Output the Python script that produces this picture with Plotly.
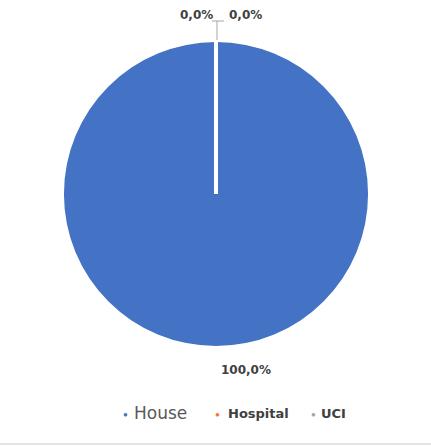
import plotly.graph_objects as go

categories = ["House", "Hospital", "UCI"]
values = [100, 0, 0]
colors = ["#4472C4", "#ED7D31", "#A5A5A5"]

W, H = 431, 447
cx, cy, r = 216, 194, 152

total = sum(values)
pct = [f"{v / total * 100:.1f}".replace(".", ",") + "%" for v in values]


def px(x):
    return x / W


def py(y):
    return 1 - y / H


fig = go.Figure(
    go.Pie(
        labels=categories,
        values=values,
        marker=dict(colors=colors, line=dict(color="white", width=0)),
        sort=False,
        direction="clockwise",
        rotation=0,
        textinfo="none",
        hoverinfo="label+percent",
        showlegend=False,
        domain=dict(x=[px(cx - r), px(cx + r)], y=[py(cy + r), py(cy - r)]),
    )
)

# data labels (pixels)
label_pos = [(246, 370), (245, 15), (196, 15)]
annotations = []
for (lx, ly), t in zip(label_pos, pct):
    annotations.append(
        dict(
            x=px(lx), y=py(ly), xref="paper", yref="paper",
            text=f"<b>{t}</b>", showarrow=False,
            font=dict(family="DejaVu Sans", size=12, color="#404040"),
            xanchor="center", yanchor="middle",
        )
    )

# legend built as text
legend_marker_x = [125, 217, 313]
legend_text_x = [132, 226, 319]
legend_fonts = [
    dict(family="DejaVu Sans", size=17, color="#595959"),
    dict(family="DejaVu Sans", size=13, color="#404040"),
    dict(family="DejaVu Sans", size=13, color="#404040"),
]
legend_y = 413
for name, col, mx, tx, f in zip(categories, colors, legend_marker_x, legend_text_x, legend_fonts):
    annotations.append(
        dict(x=px(mx), y=py(legend_y), xref="paper", yref="paper",
             text="●", showarrow=False, font=dict(size=8, color=col),
             xanchor="center", yanchor="middle")
    )
    label = name if name == "House" else f"<b>{name}</b>"
    annotations.append(
        dict(x=px(tx), y=py(legend_y), xref="paper", yref="paper",
             text=label, showarrow=False, font=f,
             xanchor="left", yanchor="middle")
    )

shapes = [
    # slice boundary at the top (zero-size slices)
    dict(type="line", xref="paper", yref="paper",
         x0=px(cx), x1=px(cx), y0=py(cy), y1=py(cy - r),
         line=dict(color="white", width=4)),
    # leader line for the zero labels
    dict(type="line", xref="paper", yref="paper",
         x0=px(212), x1=px(224), y0=py(21), y1=py(21),
         line=dict(color="#a6a6a6", width=1)),
    dict(type="line", xref="paper", yref="paper",
         x0=px(217), x1=px(217), y0=py(21), y1=py(40),
         line=dict(color="#a6a6a6", width=1)),
    # bottom border
    dict(type="line", xref="paper", yref="paper",
         x0=0, x1=1, y0=py(444), y1=py(444),
         line=dict(color="#e3e3e3", width=2)),
]

fig.update_layout(
    width=W, height=H,
    margin=dict(l=0, r=0, t=0, b=0),
    paper_bgcolor="white",
    plot_bgcolor="white",
    separators=",.",
    annotations=annotations,
    shapes=shapes,
    showlegend=False,
)

fig.write_html(
    "out.html",
    config={"displayModeBar": False},
    post_script="document.body.style.margin='0';document.body.style.overflow='hidden';",
)
